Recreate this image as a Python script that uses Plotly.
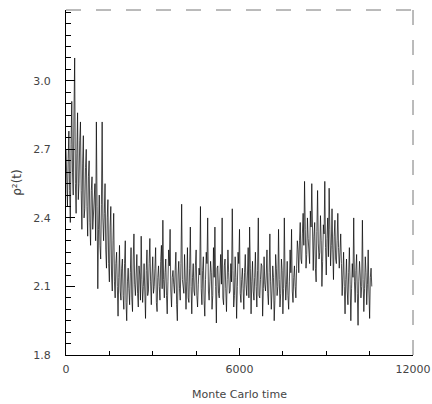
import plotly.graph_objects as go

# Values: main samples every 50 MC time units
rho2_initial = [2.70, 2.45, 2.78, 2.38, 2.91, 2.50, 3.10, 2.42, 2.86, 2.55,
                2.82, 2.35, 2.76, 2.44, 2.70, 2.32, 2.65, 2.28, 2.58, 2.40,
                2.55, 2.82, 2.09, 2.50, 2.22, 2.82, 2.30, 2.55, 2.18, 2.48,
                2.12, 2.45, 2.08, 2.42, 2.05]
rho2_low1 = [2.25, 1.97, 2.28, 2.04, 2.22, 2.00, 2.30, 1.95, 2.18, 2.02,
             2.27, 1.99, 2.33, 2.06, 2.24, 2.01, 2.15, 2.32, 2.03, 2.20,
             1.96, 2.26, 2.08, 2.31, 2.02, 2.23, 2.10, 2.27, 1.99, 2.19,
             2.04, 2.28, 2.39, 2.05, 2.22, 1.98, 2.26, 2.35, 2.01, 2.17,
             2.07, 2.25, 1.95, 2.21, 2.04, 2.46, 2.08, 2.24, 2.00, 2.27,
             2.03, 2.36, 1.98, 2.20, 2.06, 2.26, 2.01, 2.18, 2.45, 2.02,
             2.23, 1.97, 2.25, 2.40, 2.04, 2.21, 2.00, 2.27, 2.36, 1.94,
             2.19, 2.05, 2.24, 2.40, 2.02, 2.22, 1.99, 2.26, 2.07, 2.20,
             2.44, 2.01, 2.23, 1.96, 2.25, 2.35, 2.03, 2.18, 2.00, 2.24,
             2.06, 2.27, 2.36, 1.98, 2.21, 2.04, 2.25, 2.01, 2.40, 2.05,
             2.20, 1.97, 2.23, 2.08, 2.26, 2.02, 2.33, 2.00, 2.19, 1.95,
             2.24, 2.06, 2.35, 2.01, 2.22, 1.98, 2.40, 2.04, 2.21, 2.00,
             2.26, 2.35, 2.03, 2.19, 2.05]
rho2_high = [2.30, 2.16, 2.38, 2.20, 2.42, 2.56, 2.18, 2.40, 2.25, 2.43,
             2.55, 2.17, 2.38, 2.12, 2.52, 2.22, 2.41, 2.10, 2.37, 2.56,
             2.15, 2.40, 2.53, 2.19, 2.44, 2.13, 2.39, 2.20, 2.42, 2.18,
             2.33]
rho2_low2 = [2.06, 2.25, 1.98, 2.22, 2.02, 2.27, 1.95, 2.20, 2.40, 2.03,
             2.24, 1.93, 2.21, 2.05, 2.39, 1.99, 2.23, 2.02, 2.26, 1.96,
             2.18]

# Values read in between (offset by 25 MC time units)
rho2_initial_mid = [2.58, 2.66, 2.52, 2.72, 2.60, 2.85, 2.55, 2.68, 2.48, 2.74,
                    2.52, 2.64, 2.40, 2.62, 2.45, 2.58, 2.38, 2.52, 2.35, 2.50,
                    2.30, 2.45, 2.35, 2.28, 2.46, 2.40, 2.42, 2.26, 2.40, 2.20,
                    2.36, 2.15, 2.30, 2.12, 2.20]
rho2_low1_mid = [2.10, 2.14, 2.08, 2.18, 2.06, 2.20, 2.03, 2.12, 2.09, 2.16,
                 2.05, 2.22, 2.11, 2.15, 2.07, 2.19, 2.04, 2.13, 2.10, 2.08,
                 2.17, 2.06, 2.20, 2.12, 2.15, 2.07, 2.18, 2.03, 2.14, 2.10,
                 2.21, 2.09, 2.13, 2.16, 2.06, 2.12, 2.19, 2.08, 2.14, 2.11,
                 2.17, 2.02, 2.15, 2.09, 2.20, 2.13, 2.07, 2.16, 2.12, 2.05,
                 2.18, 2.10, 2.14, 2.08, 2.19, 2.06, 2.11, 2.15, 2.09, 2.17,
                 2.04, 2.13, 2.20, 2.08, 2.12, 2.16, 2.06, 2.14, 2.10, 2.18,
                 2.07, 2.15, 2.11, 2.05, 2.19, 2.09, 2.13, 2.16, 2.08, 2.12,
                 2.17, 2.06, 2.14, 2.10, 2.20, 2.07, 2.13, 2.09, 2.16, 2.11,
                 2.15, 2.05, 2.18, 2.12, 2.08, 2.14, 2.10, 2.17, 2.06, 2.13,
                 2.19, 2.09, 2.11, 2.15, 2.07, 2.16, 2.12, 2.08, 2.14, 2.04,
                 2.18, 2.10, 2.13, 2.07, 2.17, 2.09, 2.15, 2.11, 2.06, 2.12,
                 2.16, 2.08, 2.14, 2.10, 2.18]
rho2_high_mid = [2.26, 2.30, 2.22, 2.33, 2.28, 2.35, 2.24, 2.31, 2.20, 2.36,
                 2.27, 2.32, 2.18, 2.34, 2.29, 2.25, 2.30, 2.21, 2.33, 2.27,
                 2.31, 2.23, 2.35, 2.28, 2.26, 2.32, 2.22, 2.30, 2.27, 2.25,
                 2.20]
rho2_low2_mid = [2.15, 2.10, 2.13, 2.08, 2.16, 2.11, 2.09, 2.14, 2.12, 2.17,
                 2.07, 2.12, 2.15, 2.10, 2.13, 2.09, 2.16, 2.11, 2.08, 2.14,
                 2.10]

rho2_main = rho2_initial + rho2_low1 + rho2_high + rho2_low2
rho2_mid = rho2_initial_mid + rho2_low1_mid + rho2_high_mid + rho2_low2_mid
sample_step = 25

rho2 = []
for a, b in zip(rho2_main, rho2_mid):
    rho2.append(a)
    rho2.append(b)
mc_time = [sample_step * i for i in range(len(rho2))]

y_ticks = [1.8, 2.1, 2.4, 2.7, 3.0]
y_ticktext = ["1.8", "2.1", "2.4", "2.7", "3.0"]
x_ticks = [0, 6000, 12000]
x_ticktext = ["0", "6000", "12000"]

fig = go.Figure()
fig.add_trace(go.Scatter(x=mc_time, y=rho2, mode="lines",
                         line=dict(color="black", width=0.7),
                         showlegend=False, hoverinfo="skip"))

tick_font = dict(family="DejaVu Sans", size=11, color="#444444")

fig.update_layout(
    width=432, height=404,
    margin=dict(l=66, r=19, t=10, b=49),
    paper_bgcolor="white", plot_bgcolor="white",
    hovermode=False,
    xaxis=dict(range=[0, 12000], tickvals=x_ticks, ticktext=x_ticktext,
               ticks="inside", ticklen=7, tickcolor="black", tickwidth=1,
               minor=dict(dtick=1500, ticks="inside", ticklen=4, tickcolor="black"),
               showline=True, linecolor="black", linewidth=1.2,
               showgrid=False, zeroline=False, tickfont=tick_font,
               ticklabelstandoff=4, automargin=False, ticklabeloverflow="allow",
               title=dict(text="Monte Carlo time",
                          font=dict(family="DejaVu Sans", size=11, color="#444444"),
                          standoff=15)),
    yaxis=dict(range=[1.8, 3.31], tickvals=y_ticks, ticktext=y_ticktext,
               ticks="inside", ticklen=9, tickcolor="black", tickwidth=1,
               minor=dict(dtick=0.05, ticks="inside", ticklen=5, tickcolor="black"),
               showline=True, linecolor="black", linewidth=1.2,
               showgrid=False, zeroline=False, tickfont=tick_font,
               ticklabelstandoff=12, automargin=False,
               title=dict(text="ρ²(t)",
                          font=dict(family="DejaVu Sans", size=12, color="#444444"),
                          standoff=9)),
)

# broken frame on top and right, as in the scanned figure
fig.add_shape(type="line", xref="paper", yref="paper", x0=0, x1=1, y0=1, y1=1,
              line=dict(color="#777777", width=1, dash="longdash"))
fig.add_shape(type="line", xref="paper", yref="paper", x0=1, x1=1, y0=0, y1=1,
              line=dict(color="#777777", width=1, dash="longdash"))

fig.write_html("out.html", config={"displayModeBar": False},
               post_script="document.body.style.margin='0';document.body.style.overflow='hidden';")
